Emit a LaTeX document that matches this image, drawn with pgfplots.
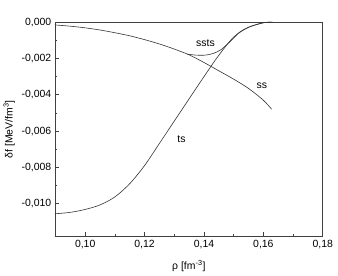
\documentclass[border=0pt]{standalone}
\usepackage{fontspec}
\setmainfont{Liberation Sans}
\usepackage{pgfplots}
\pgfplotsset{compat=1.18}
\begin{document}
\fontsize{10.5pt}{12pt}\selectfont
\begin{tikzpicture}
\begin{axis}[
  scale only axis, width=269pt, height=215pt,
  xmin=0.0898, xmax=0.18, ymin=-0.0118, ymax=0,
  xtick={0.10,0.12,0.14,0.16,0.18},
  ytick={-0.010,-0.008,-0.006,-0.004,-0.002,0},
  minor x tick num=1, minor y tick num=1,
  tick align=inside, xtick pos=left, ytick pos=left,
  major tick length=4pt, minor tick length=2.2pt,
  axis line style={line width=0.8pt, black!75},
  every tick/.style={black!75, line width=0.6pt},
  scaled ticks=false,
  /pgf/number format/assume math mode=true,
  xticklabel style={/pgf/number format/.cd, fixed, fixed zerofill, precision=2, use comma},
  yticklabel style={/pgf/number format/.cd, fixed, fixed zerofill, precision=3, use comma},
  ticklabel style={font=\fontsize{10.5pt}{12pt}\selectfont},
  xlabel={ρ [fm\textsuperscript{-3}]},
  ylabel={δf [MeV/fm\textsuperscript{3}]},
  xlabel style={at={(axis description cs:0.5,-0.14)}, anchor=center},
  ylabel style={at={(axis description cs:-0.171,0.5)}, anchor=center},
  clip=false,
]
% ss
\addplot[black!80, line width=0.6pt, smooth] coordinates {
(0.0898,-0.00015) (0.095,-0.00022) (0.100,-0.00031) (0.105,-0.00043)
(0.110,-0.00058) (0.115,-0.00075) (0.120,-0.00096) (0.125,-0.00120)
(0.130,-0.00148) (0.135,-0.00180) (0.140,-0.00222) (0.145,-0.00268)
(0.150,-0.00314) (0.155,-0.00365) (0.160,-0.00430) (0.1628,-0.00480)
};
% ts
\addplot[black!80, line width=0.6pt, smooth] coordinates {
(0.0898,-0.01056) (0.095,-0.01048) (0.100,-0.01032) (0.105,-0.01007)
(0.110,-0.00963) (0.115,-0.00890) (0.120,-0.00790) (0.125,-0.00668)
(0.130,-0.00545) (0.135,-0.00422) (0.140,-0.00300) (0.145,-0.00182)
(0.150,-0.00082) (0.155,-0.00028) (0.160,-0.00003) (0.163,0)
};
% ssts
\addplot[black!80, line width=0.6pt, smooth] coordinates {
(0.1343,-0.00176) (0.137,-0.00181) (0.140,-0.00182) (0.143,-0.00173)
(0.146,-0.00148) (0.1494,-0.00097) (0.152,-0.00055) (0.155,-0.00028)
(0.160,-0.00003) (0.163,0)
};
\node at (axis cs:0.1405,-0.00116) {ssts};
\node at (axis cs:0.1595,-0.00349) {ss};
\node at (axis cs:0.1324,-0.00645) {ts};
\end{axis}
\path ([shift={(-53.5pt,-37.7pt)}]current axis.south west) rectangle ([shift={(15.3pt,22.3pt)}]current axis.north east);
\end{tikzpicture}
\end{document}
